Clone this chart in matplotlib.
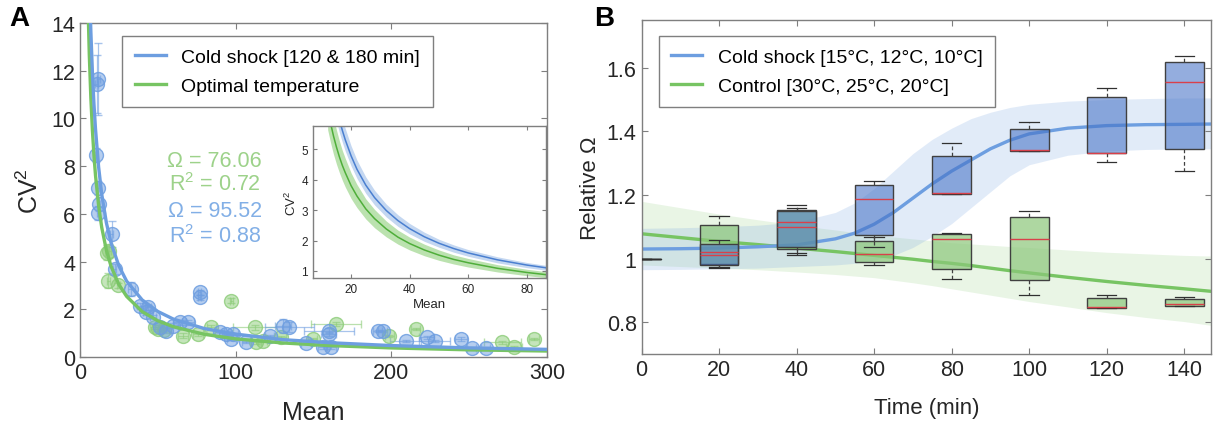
import numpy as np
import matplotlib
matplotlib.use('Agg')
import matplotlib.pyplot as plt
from matplotlib.lines import Line2D

plt.rcParams['font.family'] = ['Liberation Sans', 'DejaVu Sans']
plt.rcParams['mathtext.fontset'] = 'custom'
plt.rcParams['mathtext.rm'] = 'Liberation Sans'
plt.rcParams['mathtext.it'] = 'Liberation Sans:italic'

# ---------------- panel A data ----------------
cold_mean = [11.7, 10.7, 10.0, 11.7, 12.2, 11.3, 20.3, 22.4, 33.1, 38.5, 43.8, 42.7, 46.8, 51.3,
             55.6, 59.8, 64.1, 69.4, 76.9, 76.9, 89.7, 94.0, 97.2, 98.3, 106.8, 121.8, 130.3,
             134.6, 145.3, 159.8, 159.8, 156.0, 161.3, 191.2, 194.4, 209.4, 222.8, 228.0, 244.7,
             251.7, 260.7]
cold_cv2 = [11.65, 11.44, 8.47, 7.07, 6.40, 6.05, 5.15, 3.69, 2.85, 2.15, 2.09, 1.88, 1.68, 1.26,
            1.10, 1.31, 1.45, 1.45, 2.71, 2.51, 1.05, 0.96, 0.75, 0.96, 0.62, 0.89, 1.31,
            1.26, 0.59, 1.10, 0.96, 0.40, 0.40, 1.10, 1.10, 0.68, 0.82, 0.68, 0.75,
            0.36, 0.36]
cold_xerr = [1, 1, 0.5, 0.5, 0.5, 0.5, 1, 1, 2, 2, 2, 2, 2, 3,
             3, 3, 4, 4, 1, 1, 3, 3, 3, 3, 3, 3, 5,
             16, 3, 16, 5, 3, 3, 3, 3, 10, 5, 10, 4,
             3, 3]
cold_yerr = [1.5, 1.2, 0.3, 0.3, 0.3, 0.3, 0.55, 0.2, 0.3, 0.1, 0.1, 0.1, 0.1, 0.1,
             0.1, 0.1, 0.1, 0.1, 0.1, 0.1, 0.05, 0.05, 0.05, 0.05, 0.05, 0.05, 0.3,
             0.2, 0.05, 0.1, 0.1, 0.05, 0.05, 0.05, 0.05, 0.05, 0.05, 0.05, 0.08,
             0.05, 0.05]

opt_mean = [17.1, 18.8, 18.2, 24.6, 48.0, 50.2, 54.0, 66.2, 75.9, 84.4, 97.2, 112.2, 113.2,
            117.5, 129.3, 149.6, 164.5, 198.7, 215.8, 271.3, 278.8, 291.7]
opt_cv2 = [4.38, 4.45, 3.20, 3.00, 1.26, 1.17, 1.15, 0.89, 0.96, 1.24, 2.36, 1.24, 0.61,
           0.68, 0.82, 0.75, 1.38, 0.89, 1.17, 0.61, 0.40, 0.75]
opt_xerr = [1, 1, 1, 1, 3, 3, 3, 3, 3, 3, 1, 14, 3,
            3, 3, 3, 16, 3, 3, 12, 5, 3]
opt_yerr = [0.3, 0.3, 0.3, 0.1, 0.1, 0.1, 0.1, 0.1, 0.1, 0.1, 0.1, 0.1, 0.05,
            0.05, 0.05, 0.05, 0.1, 0.05, 0.05, 0.05, 0.05, 0.05]

fit_mean = [5, 6, 7, 8, 9, 10, 12, 14, 17, 20, 25, 30, 40, 50, 60, 80, 100, 130, 160, 200, 250, 300]
fit_cold = [19.1, 15.9, 13.65, 11.94, 10.61, 9.55, 7.96, 6.82, 5.62, 4.78, 3.82, 3.18, 2.39, 1.91,
            1.59, 1.19, 0.96, 0.73, 0.60, 0.48, 0.38, 0.32]
fit_opt = [15.2, 12.68, 10.87, 9.51, 8.45, 7.61, 6.34, 5.43, 4.47, 3.80, 3.04, 2.54, 1.90, 1.52,
           1.27, 0.95, 0.76, 0.59, 0.48, 0.38, 0.30, 0.25]

inset_mean = [12, 13, 14, 15, 16, 17, 18, 20, 22, 25, 28, 32, 36, 40, 45, 50, 55, 60, 70, 80, 87]
inset_cold = [7.96, 7.35, 6.82, 6.37, 5.97, 5.62, 5.31, 4.78, 4.34, 3.82, 3.41, 2.985, 2.653, 2.388,
              2.123, 1.910, 1.737, 1.592, 1.365, 1.194, 1.098]
inset_cold_hw = [0.56, 0.51, 0.48, 0.45, 0.42, 0.39, 0.37, 0.33, 0.30, 0.27, 0.24, 0.21, 0.19, 0.17,
                 0.15, 0.13, 0.12, 0.11, 0.10, 0.085, 0.08]
inset_opt = [6.34, 5.85, 5.43, 5.07, 4.75, 4.47, 4.23, 3.80, 3.46, 3.04, 2.72, 2.38, 2.11, 1.90,
             1.69, 1.52, 1.38, 1.27, 1.087, 0.951, 0.874]
inset_opt_hw = [0.70, 0.64, 0.60, 0.56, 0.52, 0.49, 0.47, 0.42, 0.38, 0.33, 0.30, 0.26, 0.23, 0.21,
                0.19, 0.17, 0.15, 0.14, 0.12, 0.105, 0.10]

# ---------------- panel B data ----------------
time_pts = [20, 40, 60, 80, 100, 120, 140]
cold_whislo = [0.970, 1.010, 1.036, 1.203, 1.339, 1.304, 1.276]
cold_q1 = [0.981, 1.036, 1.075, 1.203, 1.339, 1.331, 1.346]
cold_med = [1.010, 1.100, 1.188, 1.206, 1.342, 1.333, 1.554]
cold_q3 = [1.047, 1.150, 1.232, 1.324, 1.408, 1.508, 1.618]
cold_whishi = [1.057, 1.167, 1.245, 1.363, 1.429, 1.536, 1.638]
ctrl_whislo = [0.975, 1.016, 0.979, 0.935, 0.885, 0.844, 0.852]
ctrl_q1 = [0.983, 1.031, 0.988, 0.967, 0.932, 0.844, 0.852]
ctrl_med = [1.020, 1.115, 1.013, 1.060, 1.063, 0.849, 0.856]
ctrl_q3 = [1.104, 1.154, 1.054, 1.076, 1.130, 0.877, 0.873]
ctrl_whishi = [1.135, 1.160, 1.068, 1.081, 1.151, 0.885, 0.880]

fit_t = [0, 10, 20, 30, 40, 50, 55, 60, 65, 70, 75, 80, 85, 90, 95, 100, 110, 120, 130, 140, 147]
cold_fit = [1.030, 1.031, 1.033, 1.037, 1.043, 1.062, 1.080, 1.108, 1.145, 1.190, 1.235, 1.275,
            1.310, 1.345, 1.372, 1.392, 1.410, 1.418, 1.421, 1.422, 1.423]
cold_lo = [0.965, 0.966, 0.968, 0.970, 0.975, 0.980, 0.985, 0.995, 1.010, 1.035, 1.070, 1.110,
           1.160, 1.210, 1.260, 1.295, 1.325, 1.338, 1.343, 1.345, 1.345]
cold_hi = [1.095, 1.097, 1.100, 1.105, 1.115, 1.145, 1.175, 1.220, 1.275, 1.330, 1.375, 1.410,
           1.440, 1.460, 1.475, 1.485, 1.495, 1.500, 1.503, 1.505, 1.505]
ctrl_fit = [1.078, 1.066, 1.054, 1.044, 1.033, 1.022, 1.016, 1.010, 1.004, 0.998, 0.991, 0.985,
            0.978, 0.970, 0.962, 0.955, 0.941, 0.928, 0.916, 0.905, 0.897]
ctrl_lo = [0.980, 0.975, 0.970, 0.965, 0.958, 0.950, 0.945, 0.940, 0.932, 0.924, 0.915, 0.905,
           0.895, 0.885, 0.875, 0.865, 0.848, 0.830, 0.815, 0.802, 0.790]
ctrl_hi = [1.180, 1.160, 1.140, 1.122, 1.105, 1.090, 1.082, 1.075, 1.068, 1.062, 1.056, 1.050,
           1.046, 1.042, 1.038, 1.035, 1.027, 1.020, 1.015, 1.010, 1.008]

BLUE = '#6d9ee0'
GREEN = '#77c463'
SPINE = '#7f7f7f'
TXT = '#262626'


def style_axes(ax, size):
    for s in ax.spines.values():
        s.set_color(SPINE)
        s.set_linewidth(1)
    ax.tick_params(direction='in', top=True, right=True, color=SPINE,
                   labelsize=size, labelcolor=TXT, length=4)


def box_stats(whislo, q1, med, q3, whishi):
    stats = []
    for i in range(len(med)):
        stats.append(dict(whislo=whislo[i], q1=q1[i], med=med[i], q3=q3[i], whishi=whishi[i], fliers=[]))
    return stats


def make_legend(ax, labels, anchor):
    handles = [Line2D([], [], color=BLUE, lw=2.4), Line2D([], [], color=GREEN, lw=2.4)]
    leg = ax.legend(handles, labels, loc='upper left', bbox_to_anchor=anchor, borderaxespad=0,
                    fontsize=14, fancybox=False, framealpha=1, handlelength=1.6,
                    borderpad=0.65, labelspacing=0.55)
    leg.get_frame().set_edgecolor(SPINE)
    leg.get_frame().set_linewidth(1)
    leg.set_zorder(5)
    return leg


fig = plt.figure(figsize=(12.15, 4.27), dpi=100)

# ================= panel A =================
axA = fig.add_axes([0.0658, 0.1616, 0.3843, 0.7822])
axA.errorbar(opt_mean, opt_cv2, xerr=opt_xerr, yerr=opt_yerr, fmt='o', ms=10,
             mfc=(0.55, 0.80, 0.47, 0.5), mec=(0.55, 0.80, 0.47, 0.8), mew=1,
             ecolor=(0.55, 0.80, 0.47, 0.6), elinewidth=0.9, capsize=3, zorder=2)
axA.errorbar(cold_mean, cold_cv2, xerr=cold_xerr, yerr=cold_yerr, fmt='o', ms=10,
             mfc=(0.43, 0.62, 0.88, 0.5), mec=(0.43, 0.62, 0.88, 0.85), mew=1,
             ecolor=(0.43, 0.62, 0.88, 0.6), elinewidth=0.9, capsize=3, zorder=2)
axA.plot(fit_mean, fit_opt, color=GREEN, lw=2.4, zorder=3)
axA.plot(fit_mean, fit_cold, color=BLUE, lw=2.4, zorder=3)
axA.set_xlim(0, 300)
axA.set_ylim(0, 14)
axA.set_xticks([0, 100, 200, 300])
axA.set_yticks(range(0, 15, 2))
style_axes(axA, 15.5)
axA.set_xlabel('Mean', fontsize=18, color=TXT, labelpad=12)
axA.set_ylabel('CV$^2$', fontsize=18, color=TXT, labelpad=6)

axA.text(86.5, 8.25, 'Ω = 76.06', color='#9dd28a', fontsize=15.5, ha='center', va='center')
axA.text(86.5, 7.25, 'R$^2$ = 0.72', color='#9dd28a', fontsize=15.5, ha='center', va='center')
axA.text(86.5, 6.15, 'Ω = 95.52', color='#82afe6', fontsize=15.5, ha='center', va='center')
axA.text(86.5, 5.1, 'R$^2$ = 0.88', color='#82afe6', fontsize=15.5, ha='center', va='center')

make_legend(axA, ['Cold shock [120 & 180 min]', 'Optimal temperature'], (0.09, 0.961))

# inset
axI = fig.add_axes([0.2576, 0.3466, 0.1918, 0.356])
xi = np.array(inset_mean)
axI.fill_between(xi, np.array(inset_opt) - inset_opt_hw, np.array(inset_opt) + inset_opt_hw,
                 color='#8fcf7a', alpha=0.6, lw=0)
axI.fill_between(xi, np.array(inset_cold) - inset_cold_hw, np.array(inset_cold) + inset_cold_hw,
                 color='#9dbde8', alpha=0.6, lw=0)
axI.plot(inset_mean, inset_opt, color='#4fae3a', lw=1.1)
axI.plot(inset_mean, inset_cold, color='#4a7fd0', lw=1.1)
axI.set_xlim(7, 86.5)
axI.set_ylim(0.77, 5.76)
axI.set_xticks([20, 40, 60, 80])
axI.set_yticks([1, 2, 3, 4, 5])
style_axes(axI, 8.5)
axI.tick_params(length=3)
axI.set_xlabel('Mean', fontsize=9.5, color=TXT, labelpad=2)
axI.set_ylabel('CV$^2$', fontsize=9.5, color=TXT, labelpad=2)

# ================= panel B =================
axB = fig.add_axes([0.528, 0.1686, 0.469, 0.7822])
axB.fill_between(fit_t, ctrl_lo, ctrl_hi, color=GREEN, alpha=0.16, lw=0, zorder=1)
axB.fill_between(fit_t, cold_lo, cold_hi, color=BLUE, alpha=0.2, lw=0, zorder=1)
axB.plot(fit_t, ctrl_fit, color=GREEN, lw=2.4, zorder=2)
axB.plot(fit_t, cold_fit, color=BLUE, lw=2.4, zorder=2)

common = dict(positions=time_pts, widths=10, capwidths=5, patch_artist=True, showfliers=False,
              manage_ticks=False, zorder=3,
              whiskerprops=dict(color='#404040', lw=0.9, linestyle=(0, (3, 2))),
              capprops=dict(color='#303030', lw=0.9),
              medianprops=dict(color='#d9404a', lw=1))
axB.bxp(box_stats(ctrl_whislo, ctrl_q1, ctrl_med, ctrl_q3, ctrl_whishi),
        boxprops=dict(facecolor=(0.55, 0.78, 0.48, 0.7), edgecolor='#404040', lw=1), **common)
axB.bxp(box_stats(cold_whislo, cold_q1, cold_med, cold_q3, cold_whishi),
        boxprops=dict(facecolor=(0.28, 0.45, 0.78, 0.58), edgecolor='#404040', lw=1), **common)
# time 0 reference (all values normalised to 1)
axB.bxp(box_stats([1.0], [1.0], [1.0], [1.0], [1.0]), positions=[0], widths=10, capwidths=5,
        showfliers=False, manage_ticks=False, zorder=3,
        boxprops=dict(color='#303030', lw=1), medianprops=dict(color='#303030', lw=1),
        whiskerprops=dict(color='#303030'), capprops=dict(color='#303030'))

axB.set_xlim(0, 147)
axB.set_ylim(0.7, 1.75)
axB.set_xticks(range(0, 141, 20))
axB.set_yticks([0.8, 1.0, 1.2, 1.4, 1.6])
axB.set_yticklabels(['0.8', '1', '1.2', '1.4', '1.6'])
style_axes(axB, 15.5)
axB.set_xlabel('Time (min)', fontsize=16, color=TXT, labelpad=12)
axB.set_ylabel('Relative Ω', fontsize=16, color=TXT, labelpad=4)

make_legend(axB, ['Cold shock [15°C, 12°C, 10°C]', 'Control [30°C, 25°C, 20°C]'], (0.03, 0.952))

fig.text(0.008, 0.985, 'A', fontsize=20, fontweight='bold', va='top', ha='left')
fig.text(0.489, 0.985, 'B', fontsize=20, fontweight='bold', va='top', ha='left')

plt.savefig('out.png', dpi=100)
